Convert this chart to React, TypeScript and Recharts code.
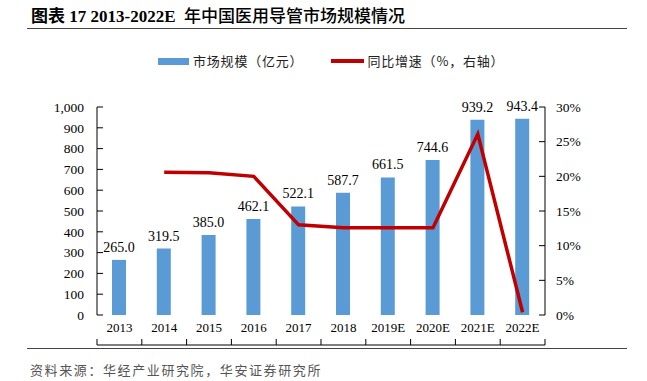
import { ComposedChart, Bar, Line, XAxis, YAxis, LabelList } from 'recharts';

const YEARS = ['2013', '2014', '2015', '2016', '2017', '2018', '2019E', '2020E', '2021E', '2022E'];
const MARKET = [265.0, 319.5, 385.0, 462.1, 522.1, 587.7, 661.5, 744.6, 939.2, 943.4];
const GROWTH = [null, 0.206, 0.205, 0.2, 0.13, 0.126, 0.126, 0.126, 0.261, 0.004];
const LEFT_TICKS = [0, 100, 200, 300, 400, 500, 600, 700, 800, 900, 1000];
const RIGHT_TICKS = [0, 0.05, 0.1, 0.15, 0.2, 0.25, 0.3];
const BOUNDARY_TICKS = [0, 1, 2, 3, 4, 5, 6, 7, 8, 9, 10];

const BAR_COLOR = '#5B9BD5';
const LINE_COLOR = '#C00000';
const SERIF = '"Liberation Serif", "Times New Roman", serif';
const CJK = '"Liberation Serif", "Noto Sans CJK SC", serif';
const CJK_SANS = '"Noto Sans CJK SC", sans-serif';

const chartData = YEARS.map((year, i) => ({ year, market: MARKET[i], growth: GROWTH[i] }));

export default function App() {
  const tickStyle = { fontSize: 13, fill: '#000', fontFamily: SERIF };
  return (
    <div style={{ position: 'absolute', left: 0, top: 0, width: 647, height: 381, background: '#fff' }}>
      <div style={{ position: 'absolute', left: 31, top: 4, fontSize: 17, lineHeight: '22px', fontWeight: 'bold', fontFamily: CJK, color: '#000', whiteSpace: 'nowrap' }}>
        图表 17 2013-2022E&nbsp; <span style={{ fontWeight: 500, fontFamily: CJK_SANS }}>年中国医用导管市场规模情况</span>
      </div>
      <div style={{ position: 'absolute', left: 27, top: 28, width: 600, height: 1, background: '#444' }} />

      {/* legend */}
      <div style={{ position: 'absolute', left: 158, top: 52, display: 'flex', alignItems: 'center', fontSize: 13, lineHeight: '18px', letterSpacing: 0.8, fontFamily: CJK_SANS, color: '#222', whiteSpace: 'nowrap' }}>
        <span style={{ display: 'inline-block', width: 31, height: 7, background: BAR_COLOR, marginRight: 4 }} />
        <span>市场规模（亿元）</span>
        <span style={{ display: 'inline-block', width: 33, height: 4, background: LINE_COLOR, marginLeft: 28, marginRight: 3 }} />
        <span>同比增速（%，右轴）</span>
      </div>

      <div style={{ position: 'absolute', left: 0, top: 0 }}>
        <ComposedChart width={647} height={381} data={chartData} margin={{ top: 107, right: 52, bottom: 35, left: 47 }}>
          <XAxis
            xAxisId="grid"
            type="number"
            dataKey={() => 0}
            domain={[0, 10]}
            ticks={BOUNDARY_TICKS}
            height={1}
            tickSize={-6}
            tick={() => <g />}
            axisLine={{ stroke: '#000' }}
            tickLine={{ stroke: '#000' }}
          />
          <XAxis
            xAxisId="cat"
            dataKey="year"
            axisLine={false}
            tickLine={false}
            tickSize={0}
            tickMargin={8}
            height={30}
            interval={0}
            tick={tickStyle}
          />
          <YAxis
            yAxisId="left"
            domain={[0, 1000]}
            ticks={LEFT_TICKS}
            interval={0}
            width={50}
            tickSize={-6}
            tickMargin={19}
            tickFormatter={(v: number) => v.toLocaleString('en-US')}
            tick={{ ...tickStyle, fontSize: 13.5 }}
            axisLine={{ stroke: '#000' }}
            tickLine={{ stroke: '#000' }}
          />
          <YAxis
            yAxisId="right"
            orientation="right"
            domain={[0, 0.3]}
            ticks={RIGHT_TICKS}
            interval={0}
            width={50}
            tickSize={-6}
            tickMargin={17}
            tickFormatter={(v: number) => `${Math.round(v * 100)}%`}
            tick={{ ...tickStyle, fontSize: 13.5, textAnchor: 'start' }}
            axisLine={{ stroke: '#000' }}
            tickLine={{ stroke: '#000' }}
          />
          <Bar xAxisId="cat" yAxisId="left" dataKey="market" fill={BAR_COLOR} barSize={14} isAnimationActive={false}>
            <LabelList
              dataKey="market"
              position="top"
              offset={8}
              formatter={(v: any) => Number(v).toFixed(1)}
              style={{ fontSize: 14, fill: '#000', fontFamily: SERIF }}
            />
          </Bar>
          <Line
            xAxisId="cat"
            yAxisId="right"
            dataKey="growth"
            stroke={LINE_COLOR}
            strokeWidth={3.5}
            dot={false}
            activeDot={false}
            type="linear"
            isAnimationActive={false}
          />
        </ComposedChart>
      </div>

      <div style={{ position: 'absolute', left: 27, top: 348, width: 600, height: 1, background: '#444' }} />
      <div style={{ position: 'absolute', left: 30, top: 361, fontSize: 13, lineHeight: '18px', letterSpacing: 1.6, fontFamily: CJK_SANS, color: '#555', whiteSpace: 'nowrap' }}>
        资料来源：华经产业研究院，华安证券研究所
      </div>
    </div>
  );
}
